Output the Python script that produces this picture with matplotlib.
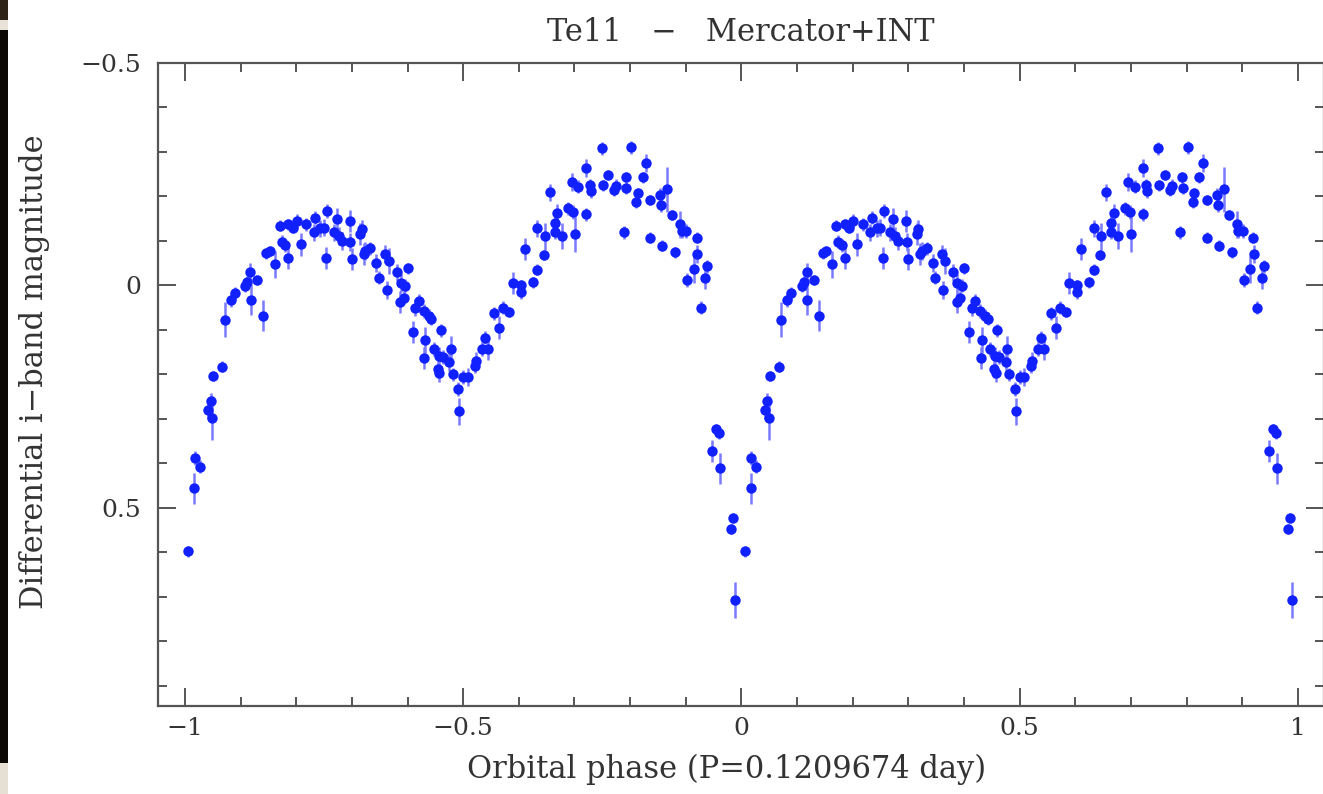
import numpy as np
import matplotlib
matplotlib.use('Agg')
import matplotlib.pyplot as plt
from matplotlib.patches import Rectangle

plt.rcParams['font.family'] = ['DejaVu Serif', 'DejaVu Sans']

# phase-folded light curve, one cycle (plotted twice: phase-1 and phase)
phase = [0.006, 0.0165, 0.018, 0.027, 0.042, 0.046, 0.049, 0.051, 0.067, 0.072,
         0.082, 0.089, 0.108, 0.112, 0.117, 0.118, 0.130, 0.140, 0.146, 0.152,
         0.162, 0.170, 0.174, 0.180, 0.186, 0.186, 0.194, 0.201, 0.208, 0.218,
         0.231, 0.234, 0.243, 0.249, 0.254, 0.256, 0.267, 0.273, 0.276, 0.282,
         0.296, 0.297, 0.300, 0.315, 0.318, 0.321, 0.324, 0.333, 0.344, 0.348,
         0.360, 0.363, 0.366, 0.381, 0.387, 0.388, 0.393, 0.396, 0.400, 0.409,
         0.414, 0.420, 0.429, 0.430, 0.432, 0.438, 0.443, 0.447, 0.454, 0.456,
         0.457, 0.460, 0.463, 0.475, 0.478, 0.481, 0.491, 0.493, 0.500, 0.508,
         0.521, 0.523, 0.533, 0.539, 0.544, 0.556, 0.565, 0.572, 0.583, 0.589,
         0.603, 0.603, 0.611, 0.625, 0.633, 0.633, 0.645, 0.647, 0.656, 0.665,
         0.665, 0.669, 0.677, 0.689, 0.695, 0.698, 0.701, 0.707, 0.721, 0.721,
         0.728, 0.729, 0.749, 0.751, 0.761, 0.771, 0.774, 0.789, 0.792, 0.793,
         0.802, 0.811, 0.814, 0.823, 0.829, 0.836, 0.836, 0.854, 0.856, 0.858,
         0.867, 0.876, 0.881, 0.890, 0.893, 0.901, 0.903, 0.914, 0.920, 0.921,
         0.927, 0.935, 0.939, 0.948, 0.955, 0.960, 0.962, 0.982, 0.985, 0.989]
mag = [0.598, 0.456, 0.388, 0.408, 0.281, 0.261, 0.298, 0.204, 0.183, 0.077,
       0.033, 0.018, 0.001, -0.007, -0.030, 0.032, -0.012, 0.068, -0.072, -0.077,
       -0.047, -0.134, -0.098, -0.090, -0.062, -0.137, -0.130, -0.145, -0.092, -0.137,
       -0.119, -0.152, -0.128, -0.130, -0.062, -0.167, -0.119, -0.150, -0.111, -0.100,
       -0.145, -0.098, -0.059, -0.115, -0.126, -0.070, -0.077, -0.083, -0.051, -0.017,
       -0.070, 0.011, -0.055, -0.029, 0.038, -0.005, 0.028, 0.001, -0.038, 0.105,
       0.050, 0.035, 0.058, 0.163, 0.123, 0.069, 0.075, 0.143, 0.188, 0.159,
       0.198, 0.101, 0.161, 0.173, 0.143, 0.200, 0.233, 0.283, 0.206, 0.206,
       0.182, 0.170, 0.143, 0.118, 0.143, 0.063, 0.095, 0.050, 0.060, -0.006,
       0.015, 0.000, -0.081, -0.007, -0.035, -0.128, -0.068, -0.110, -0.209, -0.141,
       -0.120, -0.162, -0.111, -0.173, -0.233, -0.165, -0.115, -0.222, -0.263, -0.160,
       -0.225, -0.212, -0.308, -0.225, -0.248, -0.215, -0.224, -0.119, -0.243, -0.218,
       -0.310, -0.188, -0.207, -0.243, -0.275, -0.192, -0.107, -0.203, -0.180, -0.089,
       -0.216, -0.158, -0.074, -0.137, -0.122, -0.122, -0.012, -0.036, -0.107, -0.070,
       0.050, -0.017, -0.043, 0.373, 0.323, 0.333, 0.411, 0.548, 0.523, 0.707]
err = [0.012, 0.035, 0.015, 0.015, 0.02, 0.02, 0.05, 0.012, 0.012, 0.04,
       0.015, 0.015, 0.015, 0.015, 0.02, 0.035, 0.012, 0.035, 0.012, 0.012,
       0.03, 0.012, 0.015, 0.015, 0.025, 0.012, 0.012, 0.015, 0.025, 0.015,
       0.02, 0.015, 0.02, 0.02, 0.025, 0.015, 0.02, 0.025, 0.02, 0.02,
       0.025, 0.02, 0.025, 0.025, 0.02, 0.025, 0.02, 0.015, 0.02, 0.015,
       0.02, 0.02, 0.03, 0.02, 0.025, 0.02, 0.015, 0.015, 0.012, 0.025,
       0.02, 0.015, 0.015, 0.025, 0.03, 0.015, 0.015, 0.015, 0.02, 0.02,
       0.02, 0.015, 0.015, 0.02, 0.03, 0.015, 0.015, 0.03, 0.015, 0.02,
       0.015, 0.02, 0.015, 0.015, 0.025, 0.015, 0.025, 0.015, 0.012, 0.025,
       0.015, 0.012, 0.025, 0.012, 0.012, 0.02, 0.012, 0.03, 0.02, 0.02,
       0.015, 0.02, 0.03, 0.015, 0.02, 0.015, 0.04, 0.015, 0.02, 0.015,
       0.015, 0.015, 0.015, 0.012, 0.012, 0.015, 0.015, 0.015, 0.012, 0.012,
       0.015, 0.015, 0.012, 0.012, 0.02, 0.012, 0.012, 0.015, 0.015, 0.012,
       0.05, 0.012, 0.012, 0.03, 0.015, 0.015, 0.015, 0.03, 0.012, 0.02,
       0.015, 0.025, 0.015, 0.025, 0.012, 0.012, 0.035, 0.012, 0.012, 0.04]

x = np.concatenate([np.array(phase) - 1, np.array(phase)])
y = np.concatenate([mag, mag])
e = np.concatenate([err, err])

fig = plt.figure(figsize=(13.23, 7.94), dpi=100)
ax = fig.add_axes([158 / 1323, 88 / 794, 1166 / 1323, 643 / 794])

ax.errorbar(x, y, yerr=e, fmt='o', color='#1020ff', ms=7.5, mec='none',
            ecolor='#7a7aff', elinewidth=1.8, capsize=0)

ax.set_xlim(-1.0485, 1.047)
ax.set_ylim(0.946, -0.5)
ax.set_xticks([-1, -0.5, 0, 0.5, 1])
ax.set_xticklabels(['\u22121', '\u22120.5', '0', '0.5', '1'])
ax.set_xticks(np.arange(-1.0, 1.05, 0.1), minor=True)
ax.set_yticks([-0.5, 0, 0.5])
ax.set_yticklabels(['\u22120.5', '0', '0.5'])
ax.set_yticks(np.arange(-0.5, 0.95, 0.1), minor=True)

ax.tick_params(which='both', direction='in', top=True, right=True,
               color='#555555', width=1.4, labelsize=18, labelcolor='#333333')
ax.tick_params(which='major', length=13)
ax.tick_params(which='minor', length=6.5)
ax.tick_params(axis='x', pad=8)
ax.tick_params(axis='y', pad=12)
for s in ax.spines.values():
    s.set_color('#555555')
    s.set_linewidth(1.6)

ax.set_title('Te11   \u2212   Mercator+INT', fontsize=22, color='#333333', pad=16)
ax.set_xlabel('Orbital phase (P=0.1209674 day)', fontsize=22, color='#333333')
ax.set_ylabel('Differential i\u2212band magnitude', fontsize=22, color='#333333')
ax.xaxis.set_label_coords(0.488, -0.075)
ax.yaxis.set_label_coords(-0.093, 0.52)

# dark photo edge on the left of the scan
fig.add_artist(Rectangle((0, 1 - 20 / 794), 8 / 1323, 20 / 794, transform=fig.transFigure,
                         color='#2e2418', lw=0))
fig.add_artist(Rectangle((0, 1 - 30 / 794), 8 / 1323, 10 / 794, transform=fig.transFigure,
                         color='#e8e2d8', lw=0))
fig.add_artist(Rectangle((0, 31 / 794), 8 / 1323, 1 - 61 / 794, transform=fig.transFigure,
                         color='#0c0806', lw=0))
fig.add_artist(Rectangle((0, 0), 8 / 1323, 31 / 794, transform=fig.transFigure,
                         color='#e6dfd3', lw=0))

fig.savefig('out.png', dpi=100)
